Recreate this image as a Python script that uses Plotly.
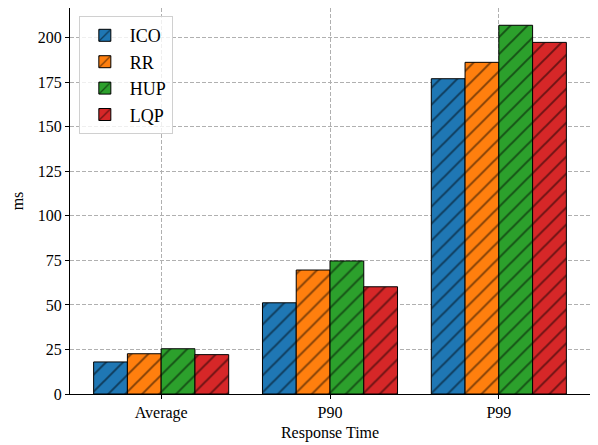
import plotly.graph_objects as go

categories = ["Average", "P90", "P99"]
series_names = ["ICO", "RR", "HUP", "LQP"]
ico = [18.0, 51.2, 177.0]
rr = [22.6, 69.6, 186.2]
hup = [25.4, 74.7, 207.0]
lqp = [22.1, 60.2, 197.4]
series_values = [ico, rr, hup, lqp]
colors = ["#1f77b4", "#ff7f0e", "#2ca02c", "#d62728"]
y_ticks = [0, 25, 50, 75, 100, 125, 150, 175, 200]

FONT = "Liberation Serif, Times New Roman, serif"

fig = go.Figure()
for name, vals, c in zip(series_names, series_values, colors):
    fig.add_trace(go.Bar(
        x=categories, y=vals, name=name,
        marker=dict(color=c, line=dict(color="black", width=1),
                    pattern=dict(shape="/", fgcolor="black", bgcolor=c,
                                 size=12, solidity=0.16, fillmode="overlay")),
    ))

axis_common = dict(showline=True, linecolor="black", linewidth=1, mirror=True,
                   ticks="outside", ticklen=4, tickcolor="black", automargin=False,
                   showgrid=True, gridcolor="#b0b0b0", griddash="4px,2px", gridwidth=0.8,
                   zeroline=False, tickfont=dict(family=FONT, size=16, color="black"))

fig.update_layout(
    width=590, height=437,
    margin=dict(l=62, r=8, t=0, b=51, autoexpand=False),
    plot_bgcolor="white", paper_bgcolor="white",
    barmode="group", bargap=0.2, bargroupgap=0,
    font=dict(family=FONT, color="black"),
    xaxis=dict(range=[-0.54, 2.54],
               title=dict(text="Response Time", font=dict(family=FONT, size=16), standoff=5),
               **axis_common),
    yaxis=dict(range=[0, 216.7], tickvals=y_ticks,
               title=dict(text="ms", font=dict(family=FONT, size=16), standoff=10),
               **axis_common),
    legend=dict(x=0.017, y=0.979, xanchor="left", yanchor="top",
                bgcolor="rgba(255,255,255,0.8)", bordercolor="#d0d0d0", borderwidth=1,
                font=dict(family=FONT, size=18, color="black"),
                tracegroupgap=0, itemwidth=40),
)

fig.write_html("out.html")
